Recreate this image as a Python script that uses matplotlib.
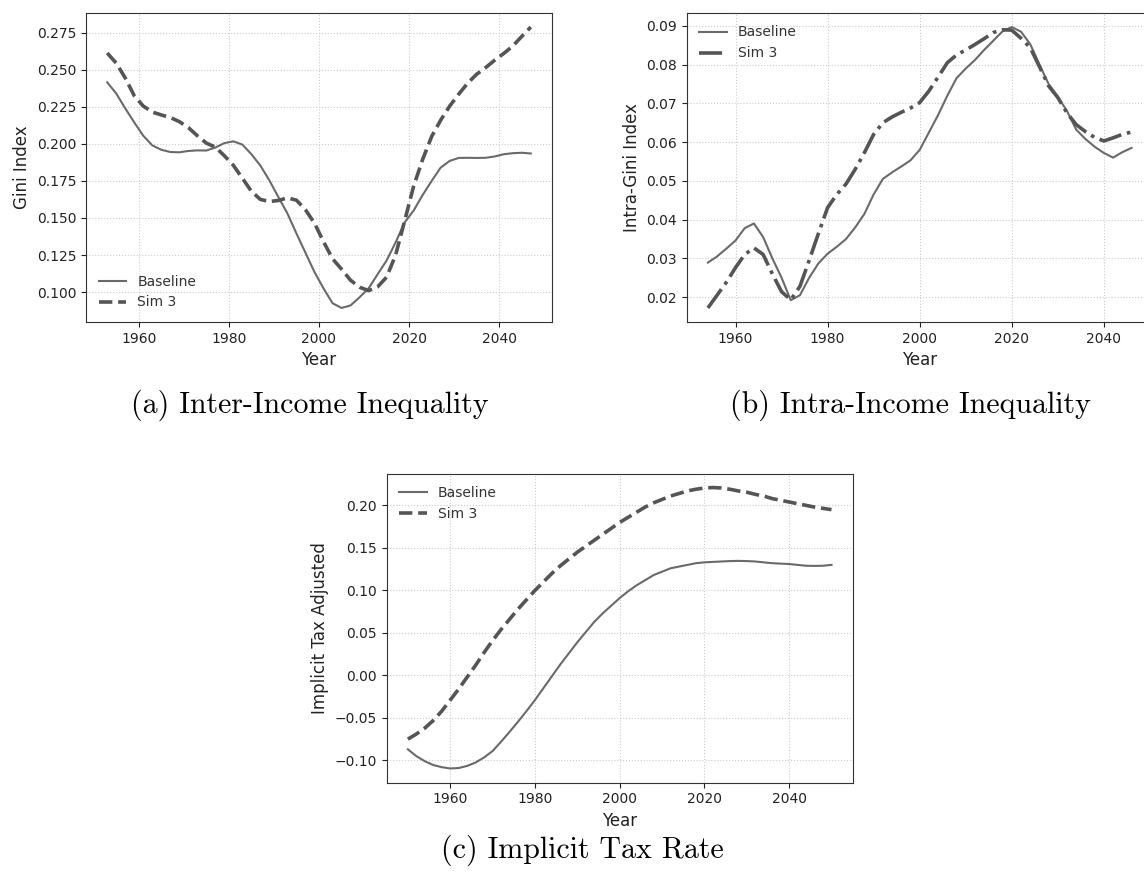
import numpy as np
import matplotlib
matplotlib.use("Agg")
import matplotlib.pyplot as plt

# (a) Inter-income Gini
years_a = [1953, 1955, 1957, 1959, 1961, 1963, 1965, 1967, 1969, 1971, 1973, 1975, 1977, 1979,
           1981, 1983, 1985, 1987, 1989, 1991, 1993, 1995, 1997, 1999, 2001, 2003, 2005, 2007,
           2009, 2011, 2013, 2015, 2017, 2019, 2021, 2023, 2025, 2027, 2029, 2031, 2033, 2035,
           2037, 2039, 2041, 2043, 2045, 2047]
base_a = [0.2415, 0.234, 0.224, 0.2145, 0.2055, 0.199, 0.196, 0.1945, 0.1943, 0.1952, 0.1956,
          0.1955, 0.1975, 0.2005, 0.2017, 0.1995, 0.193, 0.1853, 0.1753, 0.164, 0.153, 0.1395,
          0.1265, 0.1135, 0.1025, 0.0925, 0.0893, 0.091, 0.0965, 0.1025, 0.112, 0.1213, 0.1335,
          0.147, 0.155, 0.1655, 0.175, 0.184, 0.1885, 0.1905, 0.1906, 0.1905, 0.1906, 0.1915,
          0.193, 0.1937, 0.194, 0.1935]
sim3_a = [0.2613, 0.2545, 0.2445, 0.2325, 0.2255, 0.2215, 0.2195, 0.2178, 0.215, 0.211, 0.2055,
          0.2005, 0.1978, 0.192, 0.1855, 0.1768, 0.168, 0.1625, 0.1611, 0.1618, 0.1636, 0.162,
          0.1555, 0.1465, 0.134, 0.1225, 0.1155, 0.108, 0.1033, 0.101, 0.1035, 0.1101, 0.125,
          0.148, 0.1715, 0.1895, 0.205, 0.216, 0.2255, 0.2335, 0.241, 0.247, 0.2515, 0.2565,
          0.261, 0.266, 0.2725, 0.2788]

# (b) Intra-income Gini
years_b = list(range(1954, 2047, 2))
base_b = [0.0289, 0.0305, 0.0325, 0.0346, 0.0378, 0.039, 0.0355, 0.030, 0.025, 0.0192, 0.0205,
          0.025, 0.0287, 0.0312, 0.0330, 0.0350, 0.0380, 0.0415, 0.0465, 0.0505, 0.0522, 0.0537,
          0.0553, 0.058, 0.0625, 0.067, 0.072, 0.0765, 0.0790, 0.0812, 0.0838, 0.0862, 0.0886,
          0.0897, 0.0885, 0.0853, 0.080, 0.075, 0.0717, 0.068, 0.0632, 0.0608, 0.0588, 0.0572,
          0.056, 0.0574, 0.0585]
sim3_b = [0.0172, 0.0205, 0.0238, 0.0276, 0.031, 0.0327, 0.031, 0.026, 0.0214, 0.0193, 0.0228,
          0.0295, 0.0364, 0.0431, 0.0465, 0.0492, 0.053, 0.0573, 0.062, 0.065, 0.0665, 0.0677,
          0.0688, 0.0702, 0.0732, 0.0768, 0.0805, 0.0825, 0.0838, 0.0852, 0.0867, 0.0883, 0.089,
          0.0889, 0.0868, 0.0844, 0.0795, 0.0745, 0.0715, 0.0675, 0.0645, 0.0627, 0.0612, 0.0603,
          0.0611, 0.0620, 0.0626]

# (c) Implicit tax rate
years_c = list(range(1950, 2051, 2))
base_c = [-0.087, -0.095, -0.101, -0.1055, -0.108, -0.1095, -0.109, -0.1065, -0.1025, -0.0965,
          -0.089, -0.078, -0.0665, -0.0545, -0.042, -0.029, -0.015, -0.001, 0.013, 0.026, 0.039,
          0.051, 0.063, 0.073, 0.082, 0.091, 0.099, 0.106, 0.112, 0.118, 0.122, 0.126, 0.128,
          0.130, 0.132, 0.133, 0.1335, 0.134, 0.1345, 0.1347, 0.1345, 0.134, 0.133, 0.132,
          0.1315, 0.131, 0.130, 0.129, 0.1288, 0.129, 0.130]
sim3_c = [-0.075, -0.069, -0.062, -0.053, -0.042, -0.029, -0.016, -0.002, 0.012, 0.027, 0.041,
          0.054, 0.066, 0.078, 0.089, 0.100, 0.110, 0.120, 0.129, 0.137, 0.145, 0.152, 0.159,
          0.166, 0.173, 0.180, 0.186, 0.192, 0.198, 0.203, 0.207, 0.211, 0.214, 0.217, 0.219,
          0.2205, 0.221, 0.2205, 0.219, 0.217, 0.2155, 0.213, 0.211, 0.208, 0.206, 0.204, 0.202,
          0.200, 0.198, 0.1965, 0.195]

BASE_COL = "#6a6a6a"
SIM_COL = "#555555"

fig = plt.figure(figsize=(11.44, 8.77), dpi=100)

W, H = 1144, 877
def add_ax(x0, y0, w=466, h=309):
    return fig.add_axes([x0 / W, 1 - (y0 + h) / H, w / W, h / H])

ax_a = add_ax(86, 13)
ax_b = add_ax(686.7, 13)
ax_c = add_ax(386.7, 473.5)

panels = [
    (ax_a, years_a, base_a, sim3_a, "--", "Gini Index", "lower left"),
    (ax_b, years_b, base_b, sim3_b, "-.", "Intra-Gini Index", "upper left"),
    (ax_c, years_c, base_c, sim3_c, "--", "Implicit Tax Adjusted", "upper left"),
]

for ax, yrs, b, s, ls, ylab, loc in panels:
    ax.plot(yrs, b, color=BASE_COL, lw=1.5, label="Baseline")
    ax.plot(yrs, s, color=SIM_COL, lw=2.6, ls=ls, label="Sim 3")
    ax.grid(True, ls=":", lw=0.8, color="#cccccc")
    ax.set_axisbelow(True)
    ax.set_xlabel("Year", fontsize=12, color="#222222")
    ax.set_ylabel(ylab, fontsize=12, color="#222222")
    ax.tick_params(labelsize=10, colors="#222222")
    for sp in ax.spines.values():
        sp.set_color("#333333")
    ax.legend(loc=loc, frameon=False, fontsize=10, labelcolor="#333333")
    ax.set_xticks([1960, 1980, 2000, 2020, 2040])

cap = dict(fontsize=21.5, family="cmr10", ha="center", va="center")
fig.text(310 / W, 1 - 405 / H, "(a) Inter-Income Inequality", **cap)
fig.text(910 / W, 1 - 405 / H, "(b) Intra-Income Inequality", **cap)
fig.text(582 / W, 1 - 850 / H, "(c) Implicit Tax Rate", **cap)

fig.savefig("out.png", dpi=100)
